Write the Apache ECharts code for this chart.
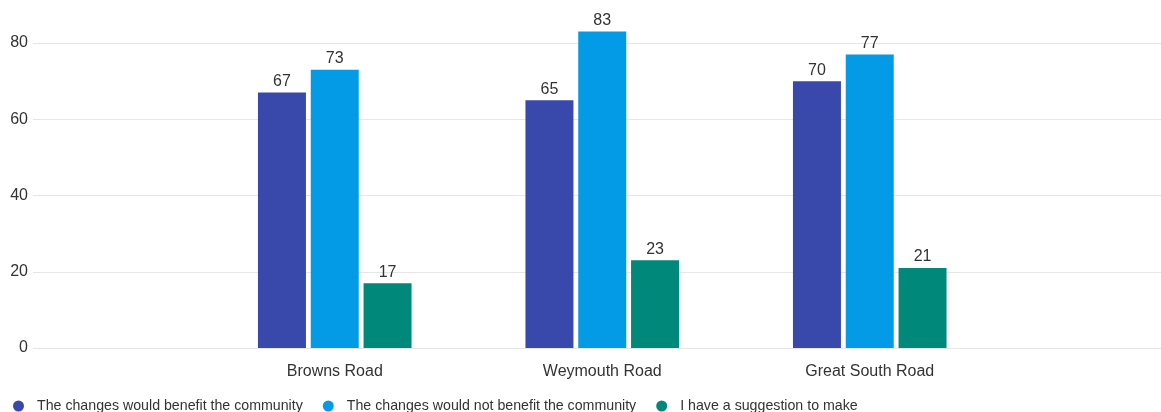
<!DOCTYPE html>
<html><head><meta charset="utf-8">
<script src="https://cdn.jsdelivr.net/npm/echarts@6/dist/echarts.min.js"></script>
<style>html,body{margin:0;padding:0;background:#fff}#c{width:1161px;height:412px}</style>
</head><body><div id="c"></div>
<script>
const categories = ['Browns Road', 'Weymouth Road', 'Great South Road'];
const seriesNames = ['The changes would benefit the community', 'The changes would not benefit the community', 'I have a suggestion to make'];
const benefit = [67, 65, 70];
const notBenefit = [73, 83, 77];
const suggestion = [17, 23, 21];
const colors = ['#3949AB', '#039BE5', '#00897B'];

const chart = echarts.init(document.getElementById('c'), null, {renderer: 'canvas'});
const font = 'Liberation Sans, Arial, sans-serif';
const mk = (name, data, i) => ({
  name, type: 'bar', data, xAxisIndex: 1, yAxisIndex: 1,
  barWidth: 48, barGap: '10%', clip: false,
  itemStyle: {color: colors[i]},
  label: {show: true, position: 'top', color: '#333', fontSize: 16, fontFamily: font, distance: 3}
});
chart.setOption({
  animation: false,
  textStyle: {fontFamily: font},
  legend: {
    bottom: -6, left: 8, icon: 'circle', itemWidth: 11, itemHeight: 11, itemGap: 20,
    textStyle: {fontSize: 14.2, color: '#333', fontFamily: font, padding: [0, 0, 0, 8]},
    data: seriesNames
  },
  grid: [
    {left: 33, right: 0, top: 43, bottom: 64},
    {left: 201, width: 802.5, top: 43, bottom: 64}
  ],
  xAxis: [
    {gridIndex: 0, type: 'category', data: [''], axisLine: {show: false}, axisTick: {show: false}, axisLabel: {show: false}},
    {gridIndex: 1, type: 'category', data: categories, axisLine: {show: false}, axisTick: {show: false},
     axisLabel: {color: '#333', fontSize: 16, fontFamily: font, margin: 16}}
  ],
  yAxis: [
    {gridIndex: 0, type: 'value', min: 0, max: 80, interval: 20,
     axisLine: {show: false}, axisTick: {show: false},
     axisLabel: {color: '#333', fontSize: 16, fontFamily: font, margin: 5},
     splitLine: {lineStyle: {color: '#e6e6e6', width: 1}}},
    {gridIndex: 1, type: 'value', min: 0, max: 80, interval: 20, show: false, splitLine: {show: false}}
  ],
  series: [mk(seriesNames[0], benefit, 0), mk(seriesNames[1], notBenefit, 1), mk(seriesNames[2], suggestion, 2)]
});
</script></body></html>
